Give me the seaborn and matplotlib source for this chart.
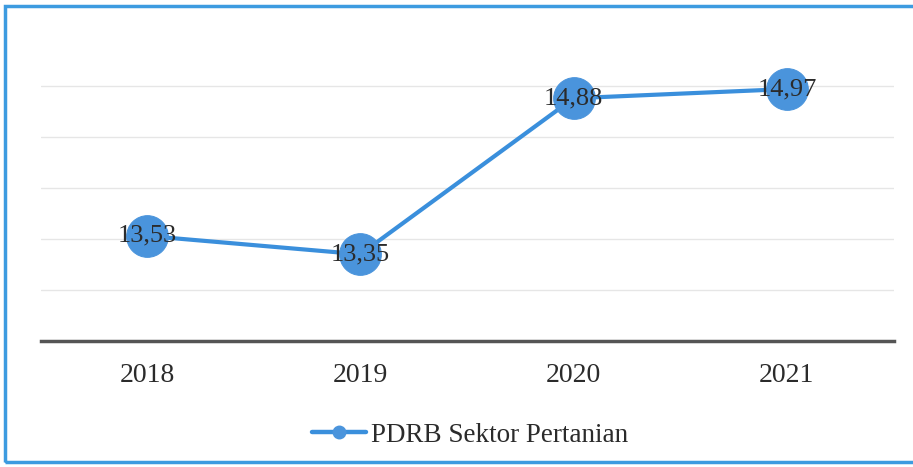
import matplotlib
matplotlib.use("Agg")
import matplotlib.pyplot as plt
import seaborn as sns
import pandas as pd
from matplotlib.patches import Rectangle
from matplotlib.lines import Line2D

years = ["2018", "2019", "2020", "2021"]
values = [13.53, 13.35, 14.88, 14.97]
labels = ["13,53", "13,35", "14,88", "14,97"]
series_name = "PDRB Sektor Pertanian"

sns.set_style("white")
plt.rcParams["font.family"] = ["Liberation Serif", "DejaVu Serif"]

df = pd.DataFrame({"Tahun": years, "Nilai": values})

fig = plt.figure(figsize=(9.13, 4.67), dpi=100)
ax = fig.add_axes([40.5 / 913, (467 - 341) / 467, (893.5 - 40.5) / 913, (341 - 35) / 467])

line_color = "#3a8fdc"
marker_color = "#4a94dc"
sns.lineplot(data=df, x="Tahun", y="Nilai", ax=ax, color=line_color, linewidth=3.0,
             marker="o", markersize=30, markerfacecolor=marker_color,
             markeredgecolor=marker_color, sort=False)

for i, (v, t) in enumerate(zip(values, labels)):
    ax.text(i, v, t, ha="center", va="center", fontsize=19, color="#2b2b2b")

ax.set_xlim(-0.5, 3.5)
ax.set_ylim(12.5, 15.5)
ax.set_yticks([13.0, 13.5, 14.0, 14.5, 15.0])
ax.set_yticklabels([])
ax.grid(axis="y", color="#e6e6e6", linewidth=1)
ax.set_axisbelow(True)
ax.set_xlabel("")
ax.set_ylabel("")
for s in ["top", "left", "right"]:
    ax.spines[s].set_visible(False)
ax.spines["bottom"].set_color("#555555")
ax.spines["bottom"].set_linewidth(2.5)
ax.tick_params(axis="x", length=0, labelsize=20, pad=16, labelcolor="#2b2b2b")
ax.tick_params(axis="y", length=0)

handle = Line2D([], [], color=line_color, linewidth=3.2, marker="o", markersize=9,
                markerfacecolor=marker_color, markeredgecolor=marker_color)
fig.legend([handle], [series_name], loc="center", bbox_to_anchor=(0.515, 0.068),
           frameon=False, fontsize=19.5, handlelength=2.0, handletextpad=0.2,
           labelcolor="#2b2b2b")

fig.patches.append(Rectangle((5 / 913, 5 / 467), 920 / 913, 456 / 467,
                             transform=fig.transFigure, fill=False,
                             edgecolor="#3d9be0", linewidth=2.5))

fig.savefig("out.png", dpi=100)
